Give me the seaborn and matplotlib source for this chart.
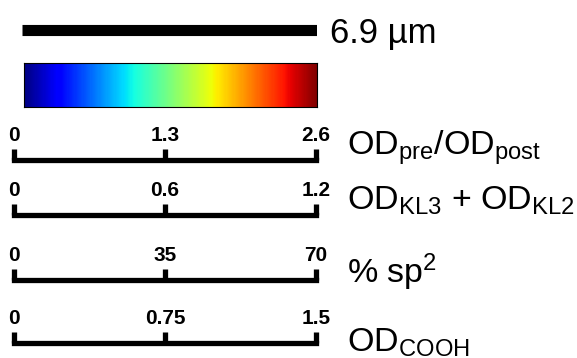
import numpy as np
import matplotlib
matplotlib.use('Agg')
import matplotlib.pyplot as plt
import seaborn as sns

sns.set_theme(style='white')
plt.rcParams['font.family'] = ['Liberation Sans', 'DejaVu Sans']
plt.rcParams['mathtext.fontset'] = 'custom'
plt.rcParams['mathtext.rm'] = 'Liberation Sans'
plt.rcParams['mathtext.it'] = 'Liberation Sans:italic'
plt.rcParams['mathtext.bf'] = 'Liberation Sans:bold'
plt.rcParams['text.color'] = 'black'

# ---- data ----
scale_length = 6.9
scale_label = '6.9 µm'
cbar_max = 2.6
cbar_ticks = [0.5, 1.0, 1.5, 2.0, 2.5]
scale_max = [2.6, 1.2, 70, 1.5]
scale_ticklabels = [['0', '1.3', '2.6'], ['0', '0.6', '1.2'],
                    ['0', '35', '70'], ['0', '0.75', '1.5']]
scale_names = [r'OD$_{\mathrm{pre}}$/OD$_{\mathrm{post}}$',
               r'OD$_{\mathrm{KL3}}$ + OD$_{\mathrm{KL2}}$',
               r'% sp$^{\mathrm{2}}$',
               r'OD$_{\mathrm{COOH}}$']

# ---- layout (pixels) ----
W, H = 577, 358
fig = plt.figure(figsize=(W / 100, H / 100), dpi=100)
fig.patch.set_facecolor('white')


def px_axes(x0, y0, x1, y1):
    return fig.add_axes([x0 / W, 1 - y1 / H, (x1 - x0) / W, (y1 - y0) / H])


def px_text(x, y, s, **kw):
    fig.text(x / W, 1 - y / H, s, **kw)


# scale bar
ax = px_axes(22, 20, 317, 39)
sns.lineplot(x=[0, scale_length], y=[0, 0], ax=ax, color='black',
             linewidth=8, solid_capstyle='butt')
ax.set_xlim(0, scale_length)
ax.set_ylim(-1, 1)
ax.axis('off')
px_text(330, 30, scale_label, fontsize=25, va='center_baseline', ha='left')

# colour bar
ax = px_axes(24, 63, 317, 107)
grad = np.linspace(0, cbar_max, 256)[None, :]
sns.heatmap(grad, cmap='jet', cbar=False, ax=ax, xticklabels=False,
            yticklabels=False, vmin=0, vmax=cbar_max)
ax.set_xticks(np.array(cbar_ticks) / cbar_max * grad.shape[1])
ax.set_yticks([])
ax.tick_params(axis='x', direction='in', length=2.5, width=0.8, color='black',
               top=True, bottom=True, labelbottom=False, labeltop=False)
for sp in ax.spines.values():
    sp.set_visible(True)
    sp.set_color('black')
    sp.set_linewidth(0.8)

# scales
y_lines = [160, 215, 280, 343]
name_base = [155, 210, 283, 352]
for i in range(4):
    yl = y_lines[i]
    ax = px_axes(14, yl - 14, 316, yl)
    ax.set_xlim(0, scale_max[i])
    ax.set_ylim(0, 1)
    for s in ['top', 'left', 'right']:
        ax.spines[s].set_visible(False)
    ax.spines['bottom'].set_color('black')
    ax.spines['bottom'].set_linewidth(3.8)
    ax.set_xticks([0, scale_max[i] / 2, scale_max[i]], scale_ticklabels[i])
    ax.set_yticks([])
    ax.tick_params(axis='x', direction='in', length=8, width=3.8, color='black',
                   bottom=True, top=False, labelbottom=False, labeltop=True,
                   pad=0.5, labelsize=15, labelcolor='black')
    for lbl in ax.get_xticklabels():
        lbl.set_fontweight('bold')
    ax.patch.set_alpha(0)
    px_text(347, name_base[i], scale_names[i], fontsize=24.5,
            va='baseline', ha='left')

fig.savefig('out.png', dpi=100, facecolor='white')
